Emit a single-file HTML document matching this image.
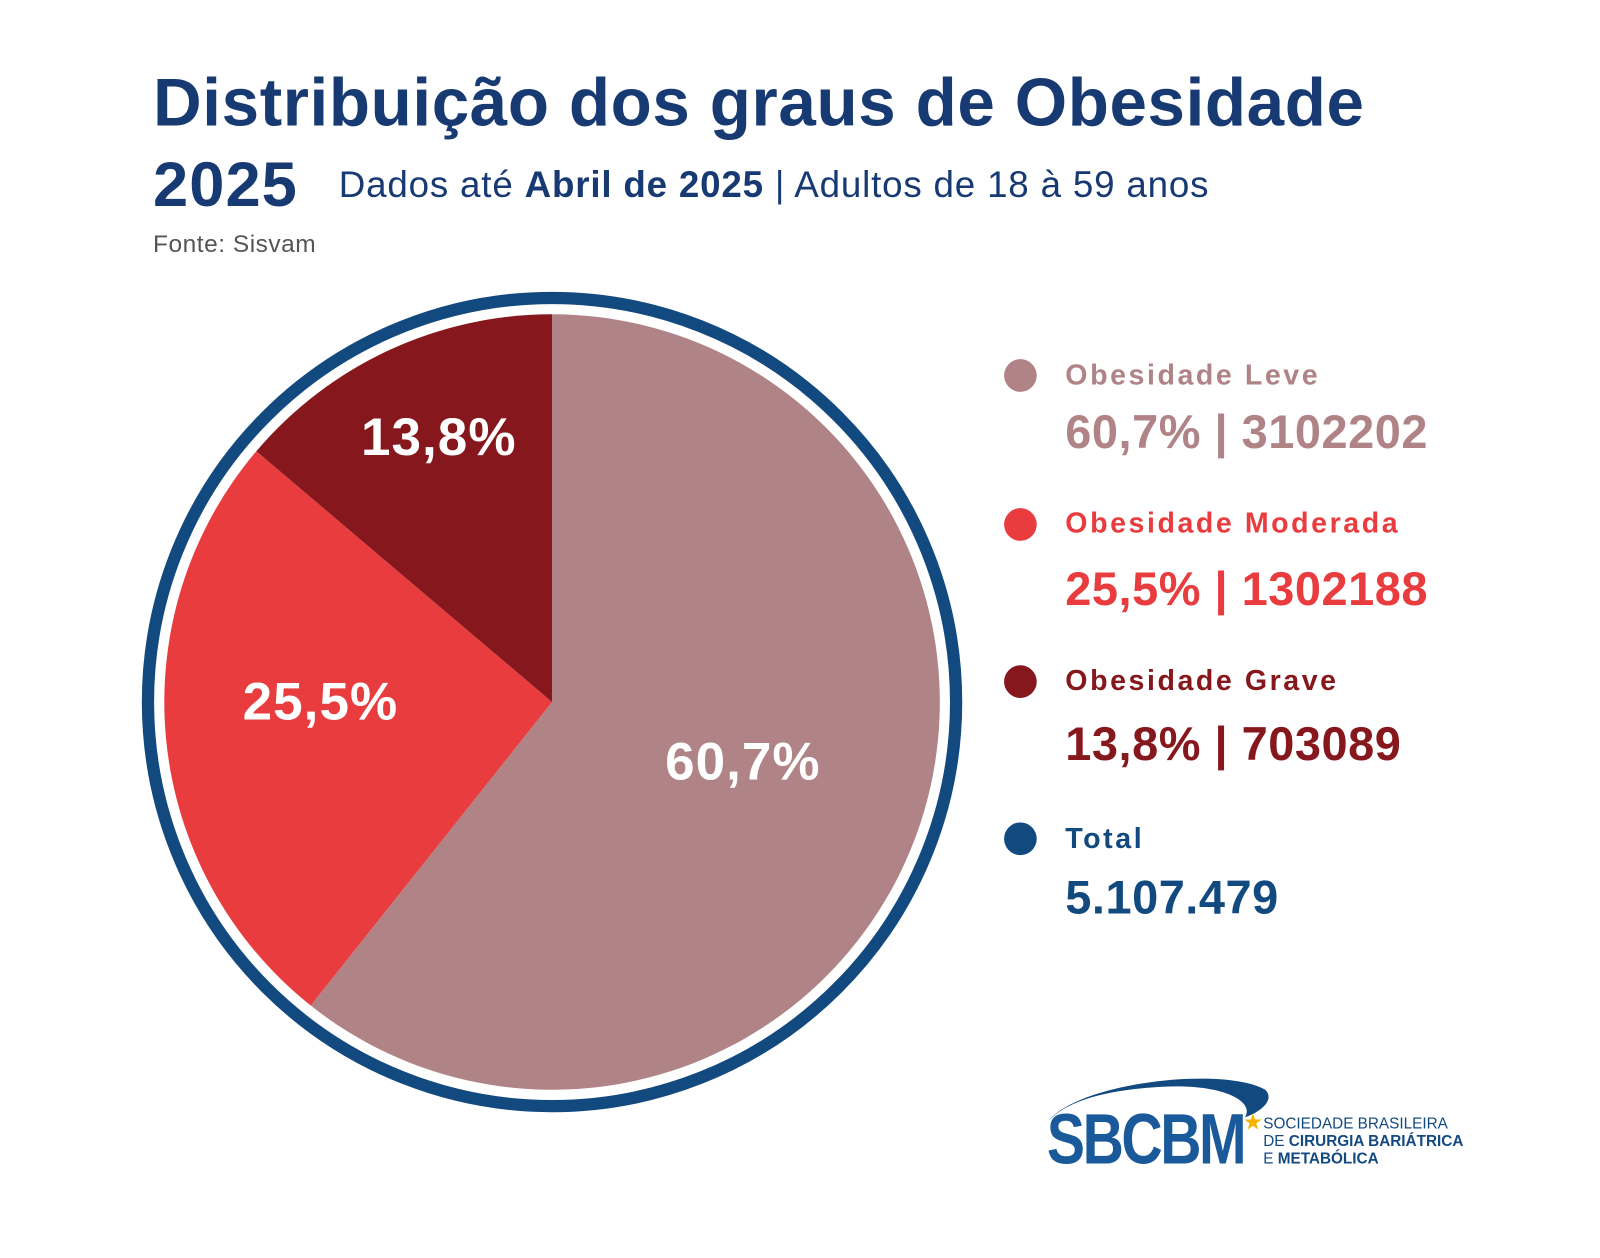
<!DOCTYPE html>
<html><head><meta charset="utf-8"><style>
body{margin:0;width:1600px;height:1258px;background:#fff;font-family:"Liberation Sans",sans-serif;position:relative;overflow:hidden}
#w{position:absolute;left:0;top:0;width:1568px;height:1233px;transform:scale(1.0204);transform-origin:0 0}
.a{position:absolute;white-space:nowrap}
.dot{position:absolute;width:32px;height:32px;border-radius:50%}
</style></head><body><div id="w">
<div class="a" style="left:150px;top:62px;font-size:66px;font-weight:bold;color:#173a72;letter-spacing:0.6px">Distribuição dos graus de Obesidade</div>
<div class="a" style="left:150px;top:146px;font-size:62px;font-weight:bold;color:#173a72;letter-spacing:1px">2025</div>
<div class="a" style="left:332px;top:160px;font-size:36px;color:#173a72;letter-spacing:0.8px">Dados até <b>Abril de 2025</b> | Adultos de 18 à 59 anos</div>
<div class="a" style="left:150px;top:226px;font-size:24px;color:#555;letter-spacing:0.5px">Fonte: Sisvam</div>
<svg class="a" style="left:0;top:0" width="1568" height="1233">
<circle cx="541" cy="688" r="396" fill="none" stroke="#124a80" stroke-width="12"/>
<path d="M541 688 L541 308 A380 380 0 1 1 304.5 985.4Z" fill="#b08486"/>
<path d="M541 688 L304.5 985.4 A380 380 0 0 1 251.2 442.2Z" fill="#e83c3e"/>
<path d="M541 688 L251.2 442.2 A380 380 0 0 1 541 308Z" fill="#86171c"/>
<g font-family="Liberation Sans" font-weight="bold" font-size="52" fill="#fff" text-anchor="middle" letter-spacing="1">
<text x="430" y="446">13,8%</text><text x="314" y="705">25,5%</text><text x="728" y="764">60,7%</text></g>
<path d="M1028 1098 C1060 1060 1200 1045 1240 1068 C1250 1078 1235 1090 1220 1095 C1230 1080 1200 1062 1140 1065 C1080 1068 1045 1080 1028 1098Z" fill="#124a80"/>
<text x="1218" y="1107" font-size="22" fill="#f5b400">★</text>
</svg>
<div class="dot" style="left:984px;top:352px;background:#b08486"></div>
<div class="a" style="left:1044px;top:352px;font-size:28px;font-weight:bold;color:#b08486;letter-spacing:2.5px">Obesidade Leve</div>
<div class="a" style="left:1044px;top:396px;font-size:46px;font-weight:bold;color:#b08486;letter-spacing:0.5px">60,7% | 3102202</div>
<div class="dot" style="left:984px;top:498px;background:#e83c3e"></div>
<div class="a" style="left:1044px;top:497px;font-size:28px;font-weight:bold;color:#e83c3e;letter-spacing:2.5px">Obesidade Moderada</div>
<div class="a" style="left:1044px;top:550px;font-size:46px;font-weight:bold;color:#e83c3e;letter-spacing:0.5px">25,5% | 1302188</div>
<div class="dot" style="left:984px;top:652px;background:#86171c"></div>
<div class="a" style="left:1044px;top:651px;font-size:28px;font-weight:bold;color:#86171c;letter-spacing:2.5px">Obesidade Grave</div>
<div class="a" style="left:1044px;top:702px;font-size:46px;font-weight:bold;color:#86171c;letter-spacing:0.5px">13,8% | 703089</div>
<div class="dot" style="left:984px;top:806px;background:#124a80"></div>
<div class="a" style="left:1044px;top:806px;font-size:28px;font-weight:bold;color:#124a80;letter-spacing:2.5px">Total</div>
<div class="a" style="left:1044px;top:852px;font-size:46px;font-weight:bold;color:#124a80;letter-spacing:0.5px">5.107.479</div>
<div class="a" style="left:1026px;top:1076px;font-size:70px;font-weight:bold;color:#1a5a9a;letter-spacing:-3px;transform:scaleX(0.8);transform-origin:left">SBCBM</div>
<div class="a" style="left:1238px;top:1093px;font-size:15px;line-height:17px;color:#124a80">SOCIEDADE BRASILEIRA<br>DE <b>CIRURGIA BARIÁTRICA</b><br>E <b>METABÓLICA</b></div>
</div></body></html>
